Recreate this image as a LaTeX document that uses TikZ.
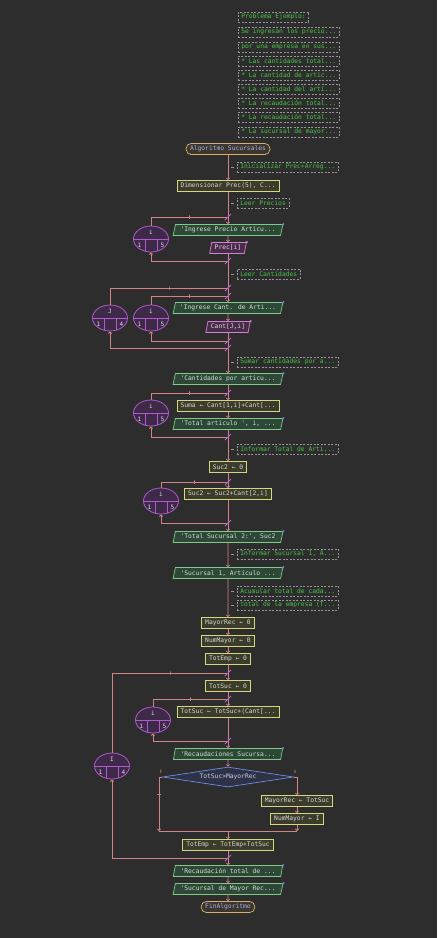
\documentclass[tikz,border=0pt]{standalone}
\usepackage{fontspec}
\newfontfamily\fmono{DejaVu Sans Mono}
\usetikzlibrary{shapes.geometric,arrows.meta}

\definecolor{bgc}{RGB}{45,45,45}
\definecolor{flowc}{RGB}{214,130,130}
\definecolor{slashc}{RGB}{190,95,225}
\definecolor{loopb}{RGB}{175,90,205}
\definecolor{loopf}{RGB}{62,42,72}
\definecolor{looptx}{RGB}{225,215,235}
\definecolor{procb}{RGB}{215,215,130}
\definecolor{procf}{RGB}{60,60,45}
\definecolor{proct}{RGB}{215,215,205}
\definecolor{outb}{RGB}{130,200,135}
\definecolor{outf}{RGB}{45,72,55}
\definecolor{outt}{RGB}{205,225,205}
\definecolor{outmk}{RGB}{110,120,240}
\definecolor{inb}{RGB}{210,130,210}
\definecolor{inf}{RGB}{72,45,72}
\definecolor{intx}{RGB}{235,210,235}
\definecolor{dcb}{RGB}{110,140,225}
\definecolor{dcf}{RGB}{45,50,70}
\definecolor{dct}{RGB}{200,205,235}
\definecolor{termb}{RGB}{215,175,110}
\definecolor{termf}{RGB}{60,55,45}
\definecolor{termt}{RGB}{170,170,235}
\definecolor{cmtb}{RGB}{150,150,150}
\definecolor{cmtt}{RGB}{70,200,70}

\tikzset{
  nodebase/.style={font=\fmono\fontsize{6.3}{7}\selectfont, inner ysep=0pt,
    minimum height=11pt, line width=0.7pt},
  proc/.style={nodebase, rectangle, draw=procb, fill=procf, text=proct, inner xsep=3.5pt},
  termnode/.style={nodebase, rectangle, rounded corners=5pt, draw=termb, fill=termf,
    text=termt, inner xsep=4pt},
  outp/.style={nodebase, trapezium, trapezium left angle=70, trapezium right angle=110,
    trapezium stretches=true, draw=outb, fill=outf, text=outt, minimum width=110pt,
    inner xsep=1pt},
  inp/.style={nodebase, trapezium, trapezium left angle=70, trapezium right angle=110,
    trapezium stretches=true, draw=inb, fill=inf, text=intx, inner xsep=3pt},
  decision/.style={nodebase, diamond, aspect=6.5, draw=dcb, fill=dcf, text=dct,
    minimum width=131pt, minimum height=20pt, inner sep=0pt},
  cmt/.style={nodebase, rectangle, draw=cmtb, dash pattern=on 2pt off 1.5pt, text=cmtt,
    anchor=west, inner xsep=3pt, minimum height=10pt, line width=0.6pt},
  cdash/.style={draw=cmtb, line width=0.6pt, shorten <=3pt, shorten >=3pt},
  flow/.style={draw=flowc, line width=0.8pt, -{Straight Barb[length=1.6pt,width=3.2pt]}},
  fline/.style={draw=flowc, line width=0.8pt},
  loopell/.style={ellipse, draw=loopb, fill=loopf, line width=0.8pt,
    minimum width=35pt, minimum height=26pt, inner sep=0pt},
  loopln/.style={draw=loopb, line width=0.8pt},
  looptxt/.style={font=\fmono\fontsize{6}{7}\selectfont, text=looptx, inner sep=0pt},
  slashmk/.style={draw=slashc, line width=0.8pt},
  tickv/.style={draw=flowc, rectangle, minimum width=0pt, minimum height=3.5pt,
    inner sep=0pt, line width=0.6pt},
  tickh/.style={draw=flowc, rectangle, minimum width=3.5pt, minimum height=0pt,
    inner sep=0pt, line width=0.6pt},
  brlab/.style={font=\fmono\fontsize{4.5}{5}\selectfont, text=flowc, inner sep=0pt},
}

% for-loop header: name, x, y, variable, first value, last value
\newcommand\loopbox[6]{%
  \node[loopell] (#1) at (#2,#3) {};
  \draw[loopln] (#1.west) -- (#1.east);
  \draw[loopln] ([xshift=-6pt]#1.center) -- ([xshift=-6pt,yshift=-12.2pt]#1.center);
  \draw[loopln] ([xshift=6pt]#1.center) -- ([xshift=6pt,yshift=-12.2pt]#1.center);
  \node[looptxt] at ([yshift=6.5pt]#1.center) {#4};
  \node[looptxt] at ([xshift=-11.5pt,yshift=-6pt]#1.center) {#5};
  \node[looptxt] at ([xshift=11.5pt,yshift=-6pt]#1.center) {#6};
}

% loop connectors: header name, top junction, bottom junction
\newcommand\loopwires[3]{%
  \draw[fline] (#1.north) |- (#2) node[tickv, pos=0.75] {};
  \draw[flow] (#3) -| (#1.south);
  \draw[slashmk] ([xshift=-3pt,yshift=-3pt]#2) -- ([xshift=3pt,yshift=3pt]#2);
  \draw[slashmk] ([xshift=-3pt,yshift=-3pt]#3) -- ([xshift=3pt,yshift=3pt]#3);
}

\begin{document}
\begin{tikzpicture}[x=1pt,y=-1pt]
\fill[bgc] (0,0) rectangle (437,938);
\useasboundingbox (0,0) rectangle (437,938);

% header comments
\node[cmt] (c0) at (238,17) {Problema Ejemplo:};
\node[cmt] (c1) at (238,32) {Se ingresan los precio...};
\node[cmt] (c2) at (238,47) {por una empresa en sus...};
\node[cmt] (c3) at (238,61) {* Las cantidades total...};
\node[cmt] (c4) at (238,75) {* La cantidad de artic...};
\node[cmt] (c5) at (238,89) {* La cantidad del artí...};
\node[cmt] (c6) at (238,103) {* La recaudación total...};
\node[cmt] (c7) at (238,117) {* La recaudación total...};
\node[cmt] (c8) at (238,132) {* La sucursal de mayor...};

% main column
\node[termnode] (start) at (228,149) {Algoritmo Sucursales};
\node[cmt] (cm1) at (237,167) {Inicializar Prec+Arreg...};
\node[proc] (dim) at (228,186) {Dimensionar Prec(5), C...};
\node[cmt] (cm2) at (237,203) {Leer Precios};

\coordinate (L1t) at (228,217);
\coordinate (L1b) at (228,261);
\loopbox{L1}{151}{239}{i}{1}{5}
\node[outp] (o1) at (228,230) {'Ingrese Precio Articu...};
\node[inp] (in1) at (228,248) {Prec[i]};

\node[cmt] (cm3) at (237,274) {Leer Cantidades};
\coordinate (L2t) at (228,288);
\coordinate (L3t) at (228,296);
\coordinate (L3b) at (228,341);
\coordinate (L2b) at (228,348);
\loopbox{L2}{110}{318}{J}{1}{4}
\loopbox{L3}{151}{318}{i}{1}{5}
\node[outp] (o2) at (228,308) {'Ingrese Cant. de Arti...};
\node[inp] (in2) at (228,327) {Cant[J,i]};

\node[cmt] (cm4) at (237,362) {Sumar cantidades por a...};
\node[outp] (o3) at (228,379) {'Cantidades por articu...};
\coordinate (L4t) at (228,393);
\coordinate (L4b) at (228,437);
\loopbox{L4}{151}{413}{i}{1}{5}
\node[proc] (p1) at (228,406) {Suma ← Cant[1,i]+Cant[...};
\node[outp] (o4) at (228,424) {'Total articulo ', i, ...};

\node[cmt] (cm5) at (237,449) {Informar Total de Arti...};
\node[proc] (p2) at (228,467) {Suc2 ← 0};
\coordinate (L5t) at (228,482);
\coordinate (L5b) at (228,523);
\loopbox{L5}{161}{501}{i}{1}{5}
\node[proc] (p3) at (228,494) {Suc2 ← Suc2+Cant[2,i]};
\node[outp] (o5) at (228,537) {'Total Sucursal 2:', Suc2};
\node[cmt] (cm6) at (237,554) {Informar Sucursal 1, A...};
\node[outp] (o6) at (228,573) {'Sucursal 1, Artículo ...};

\node[cmt] (cm7) at (237,591) {Acumular total de cada...};
\node[cmt] (cm8) at (237,605) {total de la empresa (T...};
\node[proc] (p4) at (228,623) {MayorRec ← 0};
\node[proc] (p5) at (228,641) {NumMayor ← 0};
\node[proc] (p6) at (228,659) {TotEmp ← 0};

\coordinate (L6t) at (228,673);
\coordinate (L6b) at (228,858);
\loopbox{L6}{112}{766}{I}{1}{4}
\node[proc] (p7) at (228,686) {TotSuc ← 0};
\coordinate (L7t) at (228,699);
\coordinate (L7b) at (228,741);
\loopbox{L7}{153}{720}{i}{1}{5}
\node[proc] (p8) at (228,712) {TotSuc ← TotSuc+(Cant[...};
\node[outp] (o7) at (228,754) {'Recaudaciones Sucursa...};

\node[decision] (d1) at (228,777) {TotSuc>MayorRec};
\node[brlab] (lblF) at (161,772) {F};
\node[brlab] (lblV) at (295,772) {V};
\node[proc] (p9) at (297,801) {MayorRec ← TotSuc};
\node[proc] (p10) at (297,819) {NumMayor ← I};
\coordinate (Fj) at (159,831);
\coordinate (Vj) at (297,831);
\coordinate (J) at (228,831);
\node[proc] (p11) at (228,845) {TotEmp ← TotEmp+TotSuc};

\node[outp] (o8) at (228,871) {'Recaudación total de ...};
\node[outp] (o9) at (228,889) {'Sucursal de Mayor Rec...};
\node[termnode] (fin) at (228,907) {FinAlgoritmo};

% comment leaders
\foreach \c in {cm1,cm2,cm3,cm4,cm5,cm6,cm7,cm8}
  \draw[cdash] (start |- \c.west) -- (\c.west);

% main flow
\draw[flow] (start) -- (dim);
\draw[fline] (dim) -- (L1t);
\draw[flow] (L1t) -- (o1);
\draw[flow] (o1) -- (in1);
\draw[fline] (in1) -- (L1b);
\draw[fline] (L1b) -- (L2t);
\draw[fline] (L2t) -- (L3t);
\draw[flow] (L3t) -- (o2);
\draw[flow] (o2) -- (in2);
\draw[fline] (in2) -- (L3b);
\draw[fline] (L3b) -- (L2b);
\draw[flow] (L2b) -- (o3);
\draw[fline] (o3) -- (L4t);
\draw[flow] (L4t) -- (p1);
\draw[flow] (p1) -- (o4);
\draw[fline] (o4) -- (L4b);
\draw[flow] (L4b) -- (p2);
\draw[fline] (p2) -- (L5t);
\draw[flow] (L5t) -- (p3);
\draw[fline] (p3) -- (L5b);
\draw[flow] (L5b) -- (o5);
\draw[flow] (o5) -- (o6);
\draw[flow] (o6) -- (p4);
\draw[flow] (p4) -- (p5);
\draw[flow] (p5) -- (p6);
\draw[fline] (p6) -- (L6t);
\draw[flow] (L6t) -- (p7);
\draw[fline] (p7) -- (L7t);
\draw[flow] (L7t) -- (p8);
\draw[fline] (p8) -- (L7b);
\draw[flow] (L7b) -- (o7);
\draw[flow] (o7) -- (d1);
\draw[flow] (d1.west) -| (Fj) node[tickh, pos=0.66] {};
\draw[flow] (d1.east) -| (p9.north);
\draw[flow] (p9) -- (p10);
\draw[flow] (p10) -- (Vj);
\draw[fline] (Fj) -- (Vj);
\draw[flow] (J) -- (p11);
\draw[fline] (p11) -- (L6b);
\draw[flow] (L6b) -- (o8);
\draw[flow] (o8) -- (o9);
\draw[flow] (o9) -- (fin);

% loop returns
\loopwires{L1}{L1t}{L1b}
\loopwires{L2}{L2t}{L2b}
\loopwires{L3}{L3t}{L3b}
\loopwires{L4}{L4t}{L4b}
\loopwires{L5}{L5t}{L5b}
\loopwires{L6}{L6t}{L6b}
\loopwires{L7}{L7t}{L7b}

% corner marks on input/output blocks
\foreach \n in {o1,o2,o3,o4,o5,o6,o7,o8,o9}
  \fill[outmk] (\n.top right corner) circle (1.2pt);
\foreach \n in {in1,in2}
  \fill[inb] (\n.top right corner) circle (1.2pt);
\end{tikzpicture}
\end{document}
